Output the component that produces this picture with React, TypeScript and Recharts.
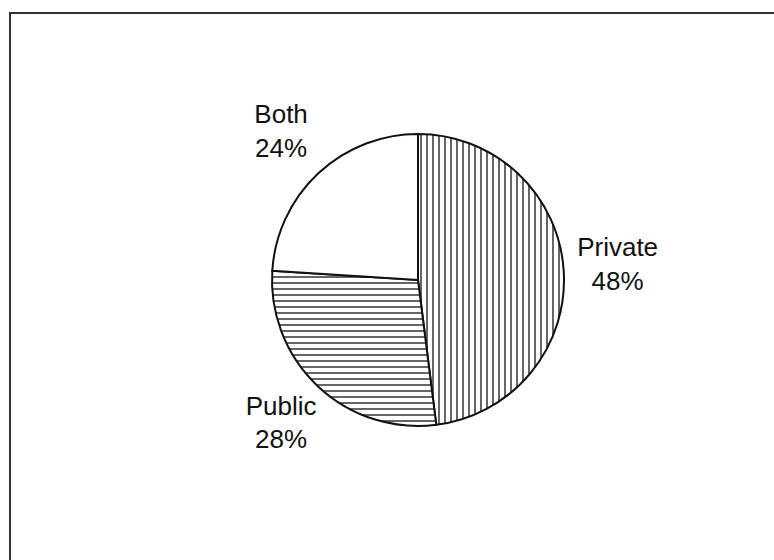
import { PieChart, Pie, Cell } from 'recharts';

// share of respondents by sector
const categories = ['Private', 'Public', 'Both'];
const shares = [48, 28, 24];
const fills = ['url(#vStripes)', 'url(#hStripes)', '#ffffff'];

const chartData = categories.map((name, i) => ({ name, value: shares[i] }));

const RAD = Math.PI / 180;

const renderLabel = (props: any) => {
  const { cx, cy, midAngle, outerRadius, name, value } = props;
  const r = outerRadius + 54;
  const x = cx + r * Math.cos(-midAngle * RAD);
  const y = cy + r * Math.sin(-midAngle * RAD);
  return (
    <text
      x={x}
      y={y}
      textAnchor="middle"
      fill="#111"
      fontSize={26}
      fontFamily="'Liberation Sans', Arial, sans-serif"
    >
      <tspan x={x} y={y - 11}>{name}</tspan>
      <tspan x={x} y={y + 22.5}>{`${value}%`}</tspan>
    </text>
  );
};

export default function App() {
  return (
    <div style={{ position: 'fixed', left: 0, top: 0, width: 774, height: 560, overflow: 'hidden', background: '#fff' }}>
      {/* frame, runs off the right and bottom edges */}
      <div
        style={{
          position: 'absolute',
          left: 9,
          top: 12,
          width: 900,
          height: 900,
          border: '2px solid #333',
        }}
      />
      <div style={{ position: 'absolute', left: 0, top: 0 }}>
        <PieChart width={774} height={560} margin={{ top: 0, right: 0, bottom: 0, left: 0 }}>
          <defs>
            <pattern id="vStripes" width={6} height={6} patternUnits="userSpaceOnUse">
              <rect width={6} height={6} fill="#fff" />
              <line x1={1} y1={0} x2={1} y2={6} stroke="#555" strokeWidth={1.8} />
            </pattern>
            <pattern id="hStripes" width={6} height={6} patternUnits="userSpaceOnUse">
              <rect width={6} height={6} fill="#fff" />
              <line x1={0} y1={1} x2={6} y2={1} stroke="#555" strokeWidth={1.8} />
            </pattern>
          </defs>
          <Pie
            data={chartData}
            dataKey="value"
            nameKey="name"
            cx={418}
            cy={280}
            outerRadius={146}
            startAngle={90}
            endAngle={-270}
            stroke="#111"
            strokeWidth={2}
            label={renderLabel}
            labelLine={false}
            isAnimationActive={false}
          >
            {chartData.map((d, i) => (
              <Cell key={d.name} fill={fills[i]} />
            ))}
          </Pie>
        </PieChart>
      </div>
    </div>
  );
}
